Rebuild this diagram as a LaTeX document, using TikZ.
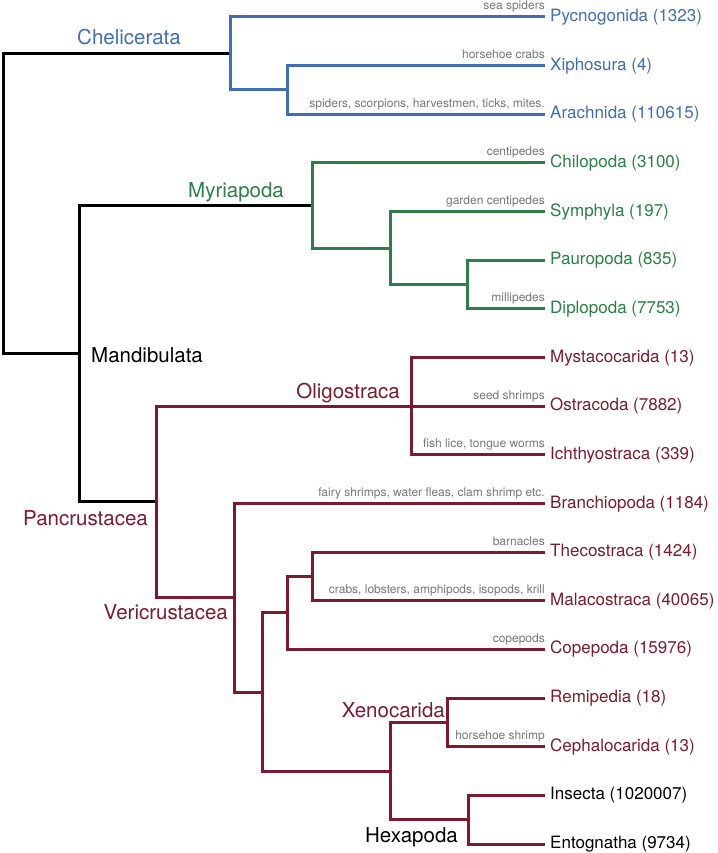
\documentclass[tikz,border=0pt]{standalone}
\usepackage{fontspec}
\setmainfont{TeX Gyre Heros}
\definecolor{cblue}{HTML}{3F6EB4}
\definecolor{cgreen}{HTML}{2A8046}
\definecolor{cred}{HTML}{7C1B2F}
\definecolor{cgray}{HTML}{767676}
\begin{document}
\begin{tikzpicture}[x=1pt,y=-1pt,
  br/.style={line width=3pt,line join=miter},
  leaf/.style={anchor=base west,font=\fontsize{17}{20}\selectfont,inner sep=0pt},
  note/.style={anchor=base east,font=\fontsize{12}{14}\selectfont,text=cgray,inner sep=0pt},
  clade/.style={anchor=base west,font=\fontsize{20.5}{24}\selectfont,inner sep=0pt}]
\useasboundingbox (0,0) rectangle (717,853);
% leaf end points
\foreach \n/\y in {1/17,2/65.65,3/114.3,4/162.95,5/211.6,6/260.25,7/308.9,8/357.55,9/406.2,10/454.85,11/503.5,12/552.15,13/600.8,14/649.45,15/698.1,16/746.75,17/795.4,18/844.05}
  \coordinate (L\n) at (545,\y);
% internal nodes
\coordinate (root) at (3.5,203.6);
\coordinate (chel) at (230,53.49);
\coordinate (xa) at (287,89.98);
\coordinate (mand) at (79,353.75);
\coordinate (myr) at (312,205.52);
\coordinate (spd) at (390,248.09);
\coordinate (pd) at (467,284.58);
\coordinate (pan) at (156,501.98);
\coordinate (oli) at (411,406.2);
\coordinate (veri) at (234,597.76);
\coordinate (na) at (262,692.02);
\coordinate (nb) at (287,612.96);
\coordinate (nc) at (312,576.48);
\coordinate (nd) at (390,771.08);
\coordinate (xeno) at (447,722.43);
\coordinate (hex) at (468,819.73);
% branches
\draw[br,black] (root) |- (chel);
\draw[br,black] (root) |- (mand);
\draw[br,cblue] (chel) |- (L1);
\draw[br,cblue] (chel) |- (xa);
\draw[br,cblue] (xa) |- (L2);
\draw[br,cblue] (xa) |- (L3);
\draw[br,black] (mand) |- (myr);
\draw[br,black] (mand) |- (pan);
\draw[br,cgreen] (myr) |- (L4);
\draw[br,cgreen] (myr) |- (spd);
\draw[br,cgreen] (spd) |- (L5);
\draw[br,cgreen] (spd) |- (pd);
\draw[br,cgreen] (pd) |- (L6);
\draw[br,cgreen] (pd) |- (L7);
\draw[br,cred] (pan) |- (oli);
\draw[br,cred] (pan) |- (veri);
\draw[br,cred] (oli) |- (L8);
\draw[br,cred] (oli) -- (L9);
\draw[br,cred] (oli) |- (L10);
\draw[br,cred] (veri) |- (L11);
\draw[br,cred] (veri) |- (na);
\draw[br,cred] (na) |- (nb);
\draw[br,cred] (na) |- (nd);
\draw[br,cred] (nb) |- (nc);
\draw[br,cred] (nb) |- (L14);
\draw[br,cred] (nc) |- (L12);
\draw[br,cred] (nc) |- (L13);
\draw[br,cred] (nd) |- (xeno);
\draw[br,cred] (nd) |- (hex);
\draw[br,cred] (xeno) |- (L15);
\draw[br,cred] (xeno) |- (L16);
\draw[br,cred] (hex) |- (L17);
\draw[br,cred] (hex) |- (L18);
% leaf labels
\foreach \n/\t/\c in {1/Pycnogonida (1323)/cblue,2/Xiphosura (4)/cblue,3/Arachnida (110615)/cblue,
  4/Chilopoda (3100)/cgreen,5/Symphyla (197)/cgreen,6/Pauropoda (835)/cgreen,7/Diplopoda (7753)/cgreen,
  8/Mystacocarida (13)/cred,9/Ostracoda (7882)/cred,10/Ichthyostraca (339)/cred,11/Branchiopoda (1184)/cred,
  12/Thecostraca (1424)/cred,13/Malacostraca (40065)/cred,14/Copepoda (15976)/cred,15/Remipedia (18)/cred,
  16/Cephalocarida (13)/cred,17/Insecta (1020007)/black,18/Entognatha (9734)/black}
  \node[leaf,text=\c] (T\n) at ([xshift=5pt,yshift=-4.5pt]L\n) {\t};
% notes
\node[note] (N1) at ([yshift=7pt]L1) {sea spiders};
\node[note] (N2) at ([yshift=7pt]L2) {horsehoe crabs};
\node[note] (N3) at ([yshift=7pt]L3) {spiders, scorpions, harvestmen, ticks, mites.};
\node[note] (N4) at ([yshift=7pt]L4) {centipedes};
\node[note] (N5) at ([yshift=7pt]L5) {garden centipedes};
\node[note] (N7) at ([yshift=7pt]L7) {millipedes};
\node[note] (N9) at ([yshift=7pt]L9) {seed shrimps};
\node[note] (N10) at ([yshift=7pt]L10) {fish lice, tongue worms};
\node[note] (N11) at ([yshift=7pt]L11) {fairy shrimps, water fleas, clam shrimp etc.};
\node[note] (N12) at ([yshift=7pt]L12) {barnacles};
\node[note] (N13) at ([yshift=7pt]L13) {crabs, lobsters, amphipods, isopods, krill};
\node[note] (N14) at ([yshift=7pt]L14) {copepods};
\node[note] (N16) at ([yshift=7pt]L16) {horsehoe shrimp};
% clade labels
\node[clade,text=cblue] (Cchel) at (77,45) {Chelicerata};
\node[clade,text=cgreen] (Cmyr) at (188,197) {Myriapoda};
\node[clade,text=black] (Cmand) at (91,362) {Mandibulata};
\node[clade,text=cred,anchor=base east] (Cpan) at (148,525.5) {Pancrustacea};
\node[clade,text=cred,anchor=base east] (Coli) at (400,398) {Oligostraca};
\node[clade,text=cred,anchor=base east] (Cveri) at (228,619) {Vericrustacea};
\node[clade,text=cred,anchor=base east] (Cxeno) at (445,717) {Xenocarida};
\node[clade,text=black,anchor=base east] (Chex) at (458,842) {Hexapoda};
\end{tikzpicture}
\end{document}
